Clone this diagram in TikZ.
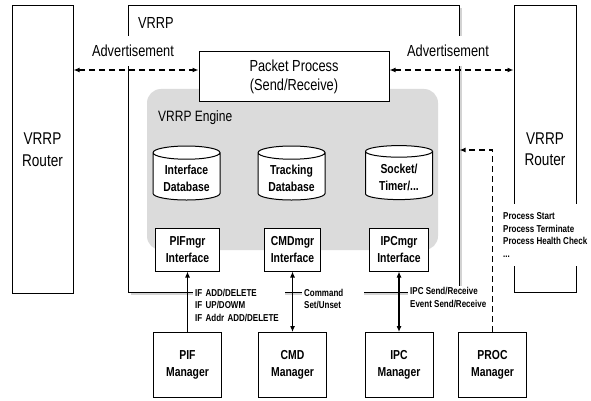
\documentclass[tikz,border=0pt]{standalone}
\usepackage{fontspec}
\usepackage{tikz}
\setmainfont{Liberation Sans}
\newfontfamily\narrowsf[FakeStretch=0.8]{Liberation Sans}
\usetikzlibrary{shapes.geometric,arrows.meta,shadows}

\begin{document}
\begin{tikzpicture}[x=1pt,y=-1pt,
  box/.style={draw, line width=1pt, fill=white, align=center, inner sep=1pt},
  bigtext/.style={font=\narrowsf\fontsize{16}{19}\selectfont},
  boldtext/.style={font=\narrowsf\bfseries\fontsize{13}{17}\selectfont},
  note/.style={fill=white, align=left, inner sep=2pt, font=\narrowsf\bfseries\fontsize{10}{12.5}\selectfont},
  db/.style={cylinder, shape border rotate=90, aspect=0.25, draw, line width=1pt, fill=white, align=center, boldtext, minimum width=67, minimum height=54},
  arr/.tip={Latex[length=6pt,width=5pt]},
  link/.style={line width=1.1pt},
  dlink/.style={line width=1.3pt, dash pattern=on 6pt off 4pt}]
  \useasboundingbox (0,0) rectangle (591,401);

  % Routers on both sides
  \node[box, font=\narrowsf\fontsize{17}{21.5}\selectfont, minimum width=61, minimum height=287] (lrouter) at (42.5,149.5) {VRRP\\Router};
  \node[box, font=\narrowsf\fontsize{17}{21.5}\selectfont, minimum width=62, minimum height=286] (rrouter) at (545,149) {VRRP\\Router};

  % VRRP block and engine
  \node[draw, line width=1pt, fill=white, minimum width=331, minimum height=286,
        drop shadow={shadow xshift=2.5pt, shadow yshift=-2.5pt, opacity=0.35}] (vrrp) at (293.5,149) {};
  \node[bigtext, anchor=west, inner sep=0] (vrrplabel) at (138,23) {VRRP};
  \node[fill=black!14, rounded corners=14pt, minimum width=291, minimum height=161] (engine) at (292.5,169.5) {};
  \node[font=\narrowsf\fontsize{15}{18}\selectfont, anchor=west, inner sep=0] (englabel) at (158,118) {VRRP Engine};

  % Packet process
  \node[box, bigtext, minimum width=190, minimum height=50] (pkt) at (294,77) {Packet Process\\(Send/Receive)};

  % Databases
  \node[db] (ifdb) at (186.5,178) {Interface\\Database};
  \node[db] (trdb) at (291.5,178) {Tracking\\Database};
  \node[db] (skdb) at (399,177) {Socket/\\Timer/...};

  % Manager interfaces
  \node[box, boldtext, minimum width=64, minimum height=43] (pifif) at (187.5,249.5) {PIFmgr\\Interface};
  \node[box, boldtext, minimum width=56, minimum height=43] (cmdif) at (292.5,249.5) {CMDmgr\\Interface};
  \node[box, boldtext, minimum width=59, minimum height=43] (ipcif) at (399,249.5) {IPCmgr\\Interface};

  % Managers
  \node[box, boldtext, minimum width=68, minimum height=65] (pif) at (187.5,365) {PIF\\Manager};
  \node[box, boldtext, minimum width=68, minimum height=65] (cmd) at (292.5,365) {CMD\\Manager};
  \node[box, boldtext, minimum width=68, minimum height=65] (ipc) at (399,365) {IPC\\Manager};
  \node[box, boldtext, minimum width=68, minimum height=65] (proc) at (492.5,365) {PROC\\Manager};

  % Labels
  \node[fill=white, bigtext, inner xsep=2pt, minimum height=30] (advl) at (133,51) {Advertisement};
  \node[fill=white, bigtext, inner xsep=2pt, minimum height=30] (advr) at (448,51) {Advertisement};
  \node[note, anchor=west, text width=88] (ifnote) at (193,305) {IF ADD/DELETE\\IF UP/DOWM\\IF Addr ADD/DELETE};
  \node[note, anchor=west, text width=58] (cmdnote) at (302,299) {Command\\Set/Unset};
  \node[note, anchor=west] (ipcnote) at (408,297.5) {IPC Send/Receive\\Event Send/Receive};
  \node[note, anchor=west, inner ysep=9pt] (procnote) at (501,235) {Process Start\\Process Terminate\\Process Health Check\\...};

  % Connectors
  \coordinate (advy) at (0,70);
  \coordinate (procy) at (0,150);
  \draw[dlink, arr-arr] (lrouter.east |- advy) -- (pkt.west |- advy);
  \draw[dlink, arr-arr] (pkt.east |- advy) -- (rrouter.west |- advy);
  \draw[link, -arr] (pif.north) -- (pifif.south);
  \draw[link, arr-arr] (cmd.north) -- (cmdif.south);
  \draw[link, arr-arr] (ipc.north) -- (ipcif.south);
  \draw[dlink, -arr] (proc.north) |- (vrrp.east |- procy);

\end{tikzpicture}
\end{document}
